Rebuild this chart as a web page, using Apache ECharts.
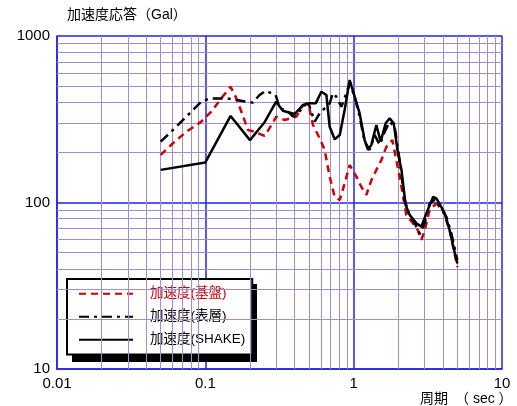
<!DOCTYPE html>
<html>
<head>
<meta charset="utf-8">
<script src="https://cdn.jsdelivr.net/npm/echarts@6/dist/echarts.min.js"></script>
<style>
  html, body { margin: 0; padding: 0; background: #fff; }
  #chart { width: 517px; height: 406px; }
</style>
</head>
<body>
<div id="chart"></div>
<script>
// 周期 (sec) と 加速度応答 (Gal)
const periodKiban = [0.05, 0.0605, 0.0745, 0.094, 0.1096, 0.128, 0.148, 0.162, 0.18, 0.194, 0.215, 0.251, 0.279, 0.301, 0.343, 0.411, 0.455, 0.5, 0.532, 0.59, 0.637, 0.689, 0.745, 0.806, 0.869, 0.94, 1.043, 1.127, 1.218, 1.316, 1.422, 1.538, 1.66, 1.824, 1.94, 2.1, 2.265, 2.51, 2.71, 2.86, 3.01, 3.25, 3.61, 4.0, 4.44, 5.0]
const accKiban = [193, 227, 266, 306, 351, 422, 496, 422, 328, 272, 266, 251, 292, 328, 313, 328, 385, 376, 292, 243, 207, 143, 108, 103.5, 130, 168, 143, 124, 111, 136, 157, 180, 216, 237, 180, 124, 84, 75, 68, 59.6, 68, 90, 99, 90, 68, 41]

const periodHyoso = [0.05, 0.0637, 0.0783, 0.094, 0.107, 0.139, 0.162, 0.209, 0.232, 0.255, 0.279, 0.298, 0.317, 0.352, 0.39, 0.42, 0.48, 0.5, 0.546, 0.59, 0.637, 0.689, 0.724, 0.764, 0.826, 0.893, 0.94, 1.016, 1.097, 1.186, 1.282, 1.386, 1.497, 1.618, 1.749, 1.89, 2.04, 2.21, 2.39, 2.58, 2.79, 3.01, 3.25, 3.52, 3.8, 4.22, 4.56, 5.0]
const accHyoso = [232, 285, 343, 403, 422, 422, 413, 398, 442, 469, 453, 442, 368, 359, 328, 343, 394, 385, 306, 343, 368, 394, 453, 432, 376, 453, 520, 432, 328, 232, 207, 254, 222, 266, 306, 285, 180, 103.5, 82, 75, 65, 75, 99, 103.5, 94, 82, 65, 45]

const periodShake = [0.05, 0.1, 0.148, 0.2, 0.25, 0.3, 0.333, 0.4, 0.455, 0.5, 0.555, 0.605, 0.655, 0.689, 0.745, 0.806, 0.869, 0.94, 1.016, 1.097, 1.186, 1.249, 1.316, 1.422, 1.52, 1.643, 1.749, 1.862, 1.99, 2.1, 2.24, 2.39, 2.65, 2.86, 3.09, 3.43, 3.61, 3.9, 4.11, 4.44, 4.8, 5.0]
const accShake = [157, 174, 331, 237, 302, 403, 356, 340, 385, 394, 394, 463, 442, 285, 240, 254, 359, 544, 432, 343, 237, 207, 222, 292, 232, 299, 320, 299, 197, 157, 96.6, 84, 75, 71.6, 86, 108, 106, 94, 86, 68, 50, 43]

const seriesNames = ['加速度(基盤)', '加速度(表層)', '加速度(SHAKE)']

// 対数目盛の補助線 (2〜9)
const xDecades = [0.01, 0.1, 1]
const yDecades = [10, 100]
const minorSteps = [2, 3, 4, 5, 6, 7, 8, 9]

const fontFamily = 'Arial, "Liberation Sans", "Noto Sans CJK JP", sans-serif'

const pairs = (xs, ys) => xs.map((x, i) => [x, ys[i]])

const minorLines = []
xDecades.forEach(d => minorSteps.forEach(s => minorLines.push({ xAxis: +(d * s).toPrecision(3) })))
yDecades.forEach(d => minorSteps.forEach(s => minorLines.push({ yAxis: +(d * s).toPrecision(3) })))

const chart = echarts.init(document.getElementById('chart'))

const legendBox = { left: 67, top: 279, width: 185, height: 78 }

const option = {
  backgroundColor: '#fff',
  animation: false,
  textStyle: { fontFamily },
  grid: {
    left: 57,
    right: 15,
    top: 36,
    bottom: 37,
    containLabel: false
  },
  graphic: [
    {
      type: 'text',
      left: 67,
      top: 8,
      style: { text: '加速度応答（Gal）', fill: '#000', font: '14px ' + fontFamily }
    },
    {
      type: 'text',
      left: 420,
      top: 392,
      style: { text: '周期　（ sec ）', fill: '#000', font: '14px ' + fontFamily }
    },
    {
      // 凡例の影
      type: 'rect',
      z: 3,
      silent: true,
      shape: {
        x: legendBox.left + 5,
        y: legendBox.top + 5,
        width: legendBox.width,
        height: legendBox.height
      },
      style: { fill: '#000' }
    }
  ],
  legend: {
    orient: 'vertical',
    left: legendBox.left,
    top: legendBox.top,
    z: 4,
    padding: [8, 7, 8, 11],
    itemWidth: 54,
    itemHeight: 14,
    itemGap: 9.5,
    backgroundColor: '#fff',
    borderColor: '#000',
    borderWidth: 2,
    borderRadius: 0,
    itemStyle: { color: 'rgba(0,0,0,0)', borderWidth: 0, opacity: 0 },
    textStyle: { fontSize: 13.5, color: '#000', padding: [0, 0, 0, 12], fontFamily },
    data: [
      { name: seriesNames[0], textStyle: { color: '#cc0000' } },
      { name: seriesNames[1] },
      { name: seriesNames[2] }
    ]
  },
  xAxis: {
    type: 'log',
    logBase: 10,
    min: 0.01,
    max: 10,
    axisLine: { show: true, lineStyle: { color: '#2222ee', width: 1.5 } },
    axisTick: { show: false },
    axisLabel: { color: '#000', fontSize: 15, margin: 7, fontFamily },
    splitLine: { show: true, lineStyle: { color: '#2222ee', width: 1.5 } }
  },
  yAxis: {
    type: 'log',
    logBase: 10,
    min: 10,
    max: 1000,
    axisLine: { show: true, lineStyle: { color: '#2222ee', width: 1.5 } },
    axisTick: { show: false },
    axisLabel: { color: '#000', fontSize: 15, margin: 7, fontFamily, formatter: v => String(v) },
    splitLine: { show: true, lineStyle: { color: '#2222ee', width: 1.5 } }
  },
  series: [
    {
      name: 'minor-grid',
      type: 'line',
      data: [],
      z: 1,
      silent: true,
      markLine: {
        silent: true,
        symbol: ['none', 'none'],
        label: { show: false },
        lineStyle: { color: '#a08ed0', width: 1, type: 'solid' },
        data: minorLines,
        animation: false
      }
    },
    {
      name: seriesNames[0],
      type: 'line',
      z: 5,
      symbol: 'none',
      color: '#cc0000',
      lineStyle: { color: '#cc0000', width: 2.5, type: [7, 5] },
      data: pairs(periodKiban, accKiban)
    },
    {
      name: seriesNames[1],
      type: 'line',
      z: 6,
      symbol: 'none',
      color: '#000',
      lineStyle: { color: '#000', width: 2.5, type: [10, 5, 3, 5] },
      data: pairs(periodHyoso, accHyoso)
    },
    {
      name: seriesNames[2],
      type: 'line',
      z: 7,
      symbol: 'none',
      color: '#000',
      lineStyle: { color: '#000', width: 2.5 },
      data: pairs(periodShake, accShake)
    }
  ]
}

chart.setOption(option)
</script>
</body>
</html>
